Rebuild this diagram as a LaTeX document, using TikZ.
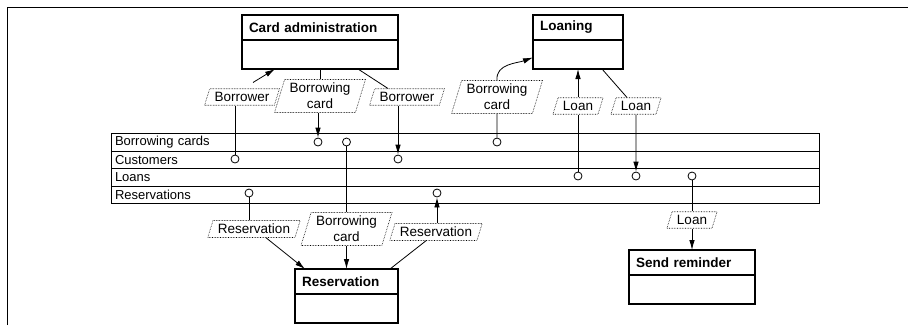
\documentclass[tikz,border=0pt]{standalone}
\usepackage{fontspec}
\setmainfont{Liberation Sans}
\usetikzlibrary{shapes.geometric,positioning,arrows.meta}

\newcommand{\figfont}{\fontsize{13.5}{16}\selectfont}

\tikzset{
  proctitle/.style={draw,line width=2.2pt,outer sep=0pt,inner xsep=7pt,inner ysep=0pt,
    minimum height=25pt,align=left,anchor=north west,font=\figfont\bfseries},
  procbody/.style={draw,line width=2.2pt,outer sep=0pt,inner sep=0pt,minimum height=29pt},
  tabrow/.style={draw,line width=0.8pt,outer sep=0pt,inner xsep=4pt,inner ysep=0pt,
    text width=700pt,minimum height=17.5pt,align=left,anchor=north west,
    font=\fontsize{13}{15}\selectfont},
  flowlbl/.style={trapezium,trapezium left angle=73,trapezium right angle=107,
    draw,densely dotted,line width=0.6pt,inner xsep=5pt,inner ysep=3.5pt,align=center},
  port/.style={circle,draw,fill=white,line width=0.8pt,minimum size=8pt,inner sep=0pt},
}

\begin{document}
\begin{tikzpicture}[x=1pt,y=-1pt,font=\figfont,line width=0.8pt,>={Latex[length=10pt,width=5.5pt]}]
  \useasboundingbox (0,0) rectangle (908,325);
  \draw[line width=1pt] (7,325) -- (7,7) -- (908,7);

  % processes
  \node[proctitle,text width=142pt] (cardadm) at (242,15) {Card administration};
  \node[procbody,minimum width=156pt,below=0pt of cardadm] (cardadmbody) {};
  \node[proctitle,text width=76pt] (loaning) at (533,15) {Loaning};
  \node[procbody,minimum width=90pt,below=0pt of loaning] (loaningbody) {};
  \node[proctitle,text width=89pt] (reserv) at (295,269) {Reservation};
  \node[procbody,minimum width=103pt,below=0pt of reserv] (reservbody) {};
  \node[proctitle,text width=112pt] (sendrem) at (629,250) {Send reminder};
  \node[procbody,minimum width=126pt,below=0pt of sendrem] (sendrembody) {};

  % data store
  \node[tabrow] (rcards) at (111,133.5) {Borrowing cards};
  \node[tabrow,below=0pt of rcards] (rcust) {Customers};
  \node[tabrow,below=0pt of rcust] (rloans) {Loans};
  \node[tabrow,below=0pt of rloans] (rres) {Reservations};

  % access points
  \node[port] (pc1) at (235,159) {};
  \node[port] (pc2) at (318,142) {};
  \node[port] (pc3) at (398,159) {};
  \node[port] (pc4) at (497,142) {};
  \node[port] (pc5) at (578,176) {};
  \node[port] (pc6) at (636,176) {};
  \node[port] (pc7) at (692,176) {};
  \node[port] (pc8) at (249,193) {};
  \node[port] (pc9) at (346.5,142) {};
  \node[port] (pc10) at (437,193) {};

  % flows
  \node[flowlbl] (bor1) at (242,97) {Borrower};
  \node[flowlbl] (bcard1) at (320,96) {Borrowing\\card};
  \node[flowlbl] (bor2) at (407,97) {Borrower};
  \node[flowlbl] (bcard2) at (497,97) {Borrowing\\card};
  \node[flowlbl] (loan1) at (578,106) {Loan};
  \node[flowlbl] (loan2) at (636,106) {Loan};
  \node[flowlbl] (loan3) at (692,220) {Loan};
  \node[flowlbl] (res1) at (254,229) {Reservation};
  \node[flowlbl] (bcard3) at (346.5,229) {Borrowing\\card};
  \node[flowlbl] (res2) at (436,232) {Reservation};

  \draw (pc1) -- (pc1 |- bor1.south);
  \draw[->] ([xshift=11pt,yshift=6pt]bor1.north) -- ([xshift=33pt]cardadmbody.south west);
  \draw (cardadmbody.south -| bcard1.north) -- (bcard1.north);
  \draw[->] (bcard1.south -| pc2) -- (pc2);
  \draw ([xshift=-40pt]cardadmbody.south east) -- ([xshift=-19pt]bor2.north);
  \draw[->] (bor2.south -| pc3) -- (pc3);

  \draw[->] (bcard2.north) to[out=95,in=200] ([yshift=-3pt]loaningbody.west);
  \draw (bcard2) -- (pc4);
  \draw (pc5) -- (loan1);
  \draw[->] (loan1) -- (loaningbody);
  \draw ([xshift=-21pt]loaningbody.south east) -- ([xshift=-9pt]loan2.north);
  \draw[->] (loan2) -- (pc6);
  \draw (pc7) -- (loan3);
  \draw[->] (loan3) -- (sendrem);

  \draw (pc8) -- (pc8 |- res1.north);
  \draw[->] ([xshift=12pt]res1.south) -- ([xshift=10pt]reserv.north west);
  \draw (pc9) -- (bcard3);
  \draw[->] (bcard3) -- (reserv);
  \draw ([xshift=-8pt]reserv.north east) -- ([xshift=-10pt]res2.south);
  \draw[->] (res2.north -| pc10) -- (pc10);
\end{tikzpicture}
\end{document}
